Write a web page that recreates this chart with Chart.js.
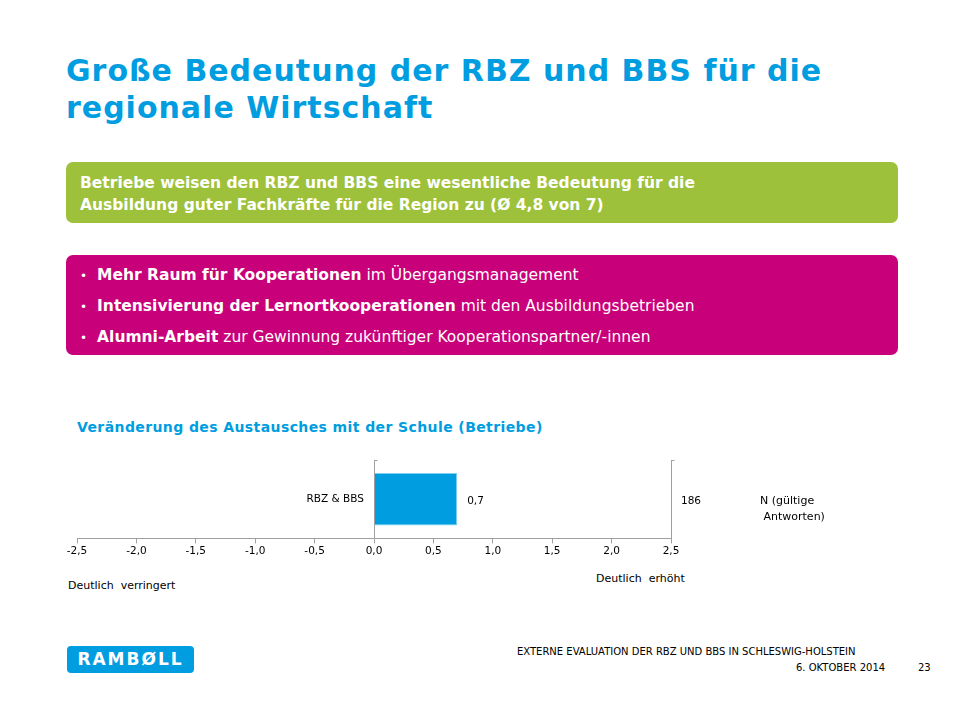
<!DOCTYPE html>
<html><head><meta charset="utf-8">
<script src="https://cdn.jsdelivr.net/npm/chart.js@4"></script>
<style>
body{margin:0;width:960px;height:720px;background:#fff;font-family:Verdana,"DejaVu Sans",sans-serif;position:relative;overflow:hidden}
.t{position:absolute;left:66px;top:52px;color:#009de0;font-weight:bold;font-size:30px;letter-spacing:1px;line-height:37px;font-family:Verdana,"DejaVu Sans",sans-serif}
.g{position:absolute;left:66px;top:162px;width:832px;height:61px;background:#9dc13b;border-radius:7px;color:#fff;font-weight:bold;font-size:15.5px;line-height:22px;box-sizing:border-box;padding:10px 14px}
.m{position:absolute;left:66px;top:255px;width:832px;height:100px;background:#c8007a;border-radius:7px;color:#fff;font-size:15.5px;line-height:30px;box-sizing:border-box;padding:5px 14px}
.m div:before{content:"•";font-size:12px;margin-right:10px}
.sub{position:absolute;left:77px;top:419px;color:#009de0;font-weight:bold;font-size:14px;letter-spacing:0.4px}
.s{position:absolute;font-size:11px;color:#000;font-family:Verdana,"DejaVu Sans",sans-serif}
#wrap{position:absolute;left:0;top:450px;width:960px;height:110px}
.logo{position:absolute;left:67px;top:646px;width:127px;height:27px;background:#009de0;border-radius:4px;color:#fff;font-weight:bold;font-size:17px;letter-spacing:2px;text-align:center;line-height:27px}
</style></head><body>
<div class="t">Große Bedeutung der RBZ und BBS für die<br>regionale Wirtschaft</div>
<div class="g">Betriebe weisen den RBZ und BBS eine wesentliche Bedeutung für die<br>Ausbildung guter Fachkräfte für die Region zu (Ø 4,8 von 7)</div>
<div class="m">
<div><b>Mehr Raum für Kooperationen</b> im Übergangsmanagement</div>
<div><b>Intensivierung der Lernortkooperationen</b> mit den Ausbildungsbetrieben</div>
<div><b>Alumni-Arbeit</b> zur Gewinnung zukünftiger Kooperationspartner/-innen</div>
</div>
<div class="sub">Veränderung des Austausches mit der Schule (Betriebe)</div>
<div id="wrap"><canvas id="c" width="960" height="110"></canvas></div>
<div class="s" style="left:760px;top:493px;line-height:16px">N (gültige<br>&nbsp;Antworten)</div>
<div class="s" style="left:68px;top:579px">Deutlich&nbsp; verringert</div>
<div class="s" style="left:596px;top:572px">Deutlich&nbsp; erhöht</div>
<div class="logo">RAMBØLL</div>
<div class="s" style="left:517px;top:646px;font-size:10px">EXTERNE EVALUATION DER RBZ UND BBS IN SCHLESWIG-HOLSTEIN</div>
<div class="s" style="left:796px;top:662px;font-size:10px">6. OKTOBER 2014</div>
<div class="s" style="left:918px;top:662px;font-size:10px">23</div>
<script>
const categories=["RBZ & BBS"];
const values=[0.7];
const counts=[186];
const tickValues=[-2.5,-2,-1.5,-1,-0.5,0,0.5,1,1.5,2,2.5];
const fmt=v=>v.toFixed(1).replace('.',',');
const deco={id:'deco',afterDatasetsDraw(ch){
 const c=ch.ctx,x=ch.scales.x,y=ch.scales.y,a=ch.chartArea;
 c.save();c.strokeStyle='#a0a0a0';c.lineWidth=1;
 [0,2.5].forEach(v=>{const px=Math.round(x.getPixelForValue(v))+0.5;c.beginPath();c.moveTo(px,a.top);c.lineTo(px,a.bottom);c.stroke();c.beginPath();c.moveTo(px,a.top+0.5);c.lineTo(px+3,a.top+0.5);c.stroke();});
 c.fillStyle='#000';c.font='10.5px Verdana, "DejaVu Sans", sans-serif';c.textBaseline='middle';
 categories.forEach((cat,i)=>{const py=y.getPixelForValue(i);
  c.textAlign='right';c.fillText(cat,x.getPixelForValue(0)-10,py);
  c.textAlign='left';c.fillText(fmt(values[i]),x.getPixelForValue(values[i])+10,py+2);
  c.fillText(String(counts[i]),x.getPixelForValue(2.5)+10,py+2);});
 c.restore();}};
new Chart(document.getElementById('c'),{type:'bar',
 data:{labels:categories,datasets:[{data:values,backgroundColor:'#009de0',borderColor:'#7fcdef',borderWidth:1,categoryPercentage:0.67,barPercentage:1}]},
 options:{indexAxis:'y',responsive:false,animation:false,events:[],
  layout:{padding:{left:77,right:289,top:10,bottom:0}},
  plugins:{legend:{display:false},tooltip:{enabled:false}},
  scales:{x:{min:-2.5,max:2.5,afterBuildTicks:s=>{s.ticks=tickValues.map(v=>({value:v}))},
    grid:{drawOnChartArea:false,tickLength:5,color:'#a0a0a0'},border:{color:'#a0a0a0'},
    ticks:{color:'#000',font:{size:10.5,family:'Verdana, "DejaVu Sans", sans-serif'},padding:2,callback:v=>fmt(v),maxRotation:0,autoSkip:false}},
   y:{display:false}}},
 plugins:[deco]});
</script>
</body></html>
